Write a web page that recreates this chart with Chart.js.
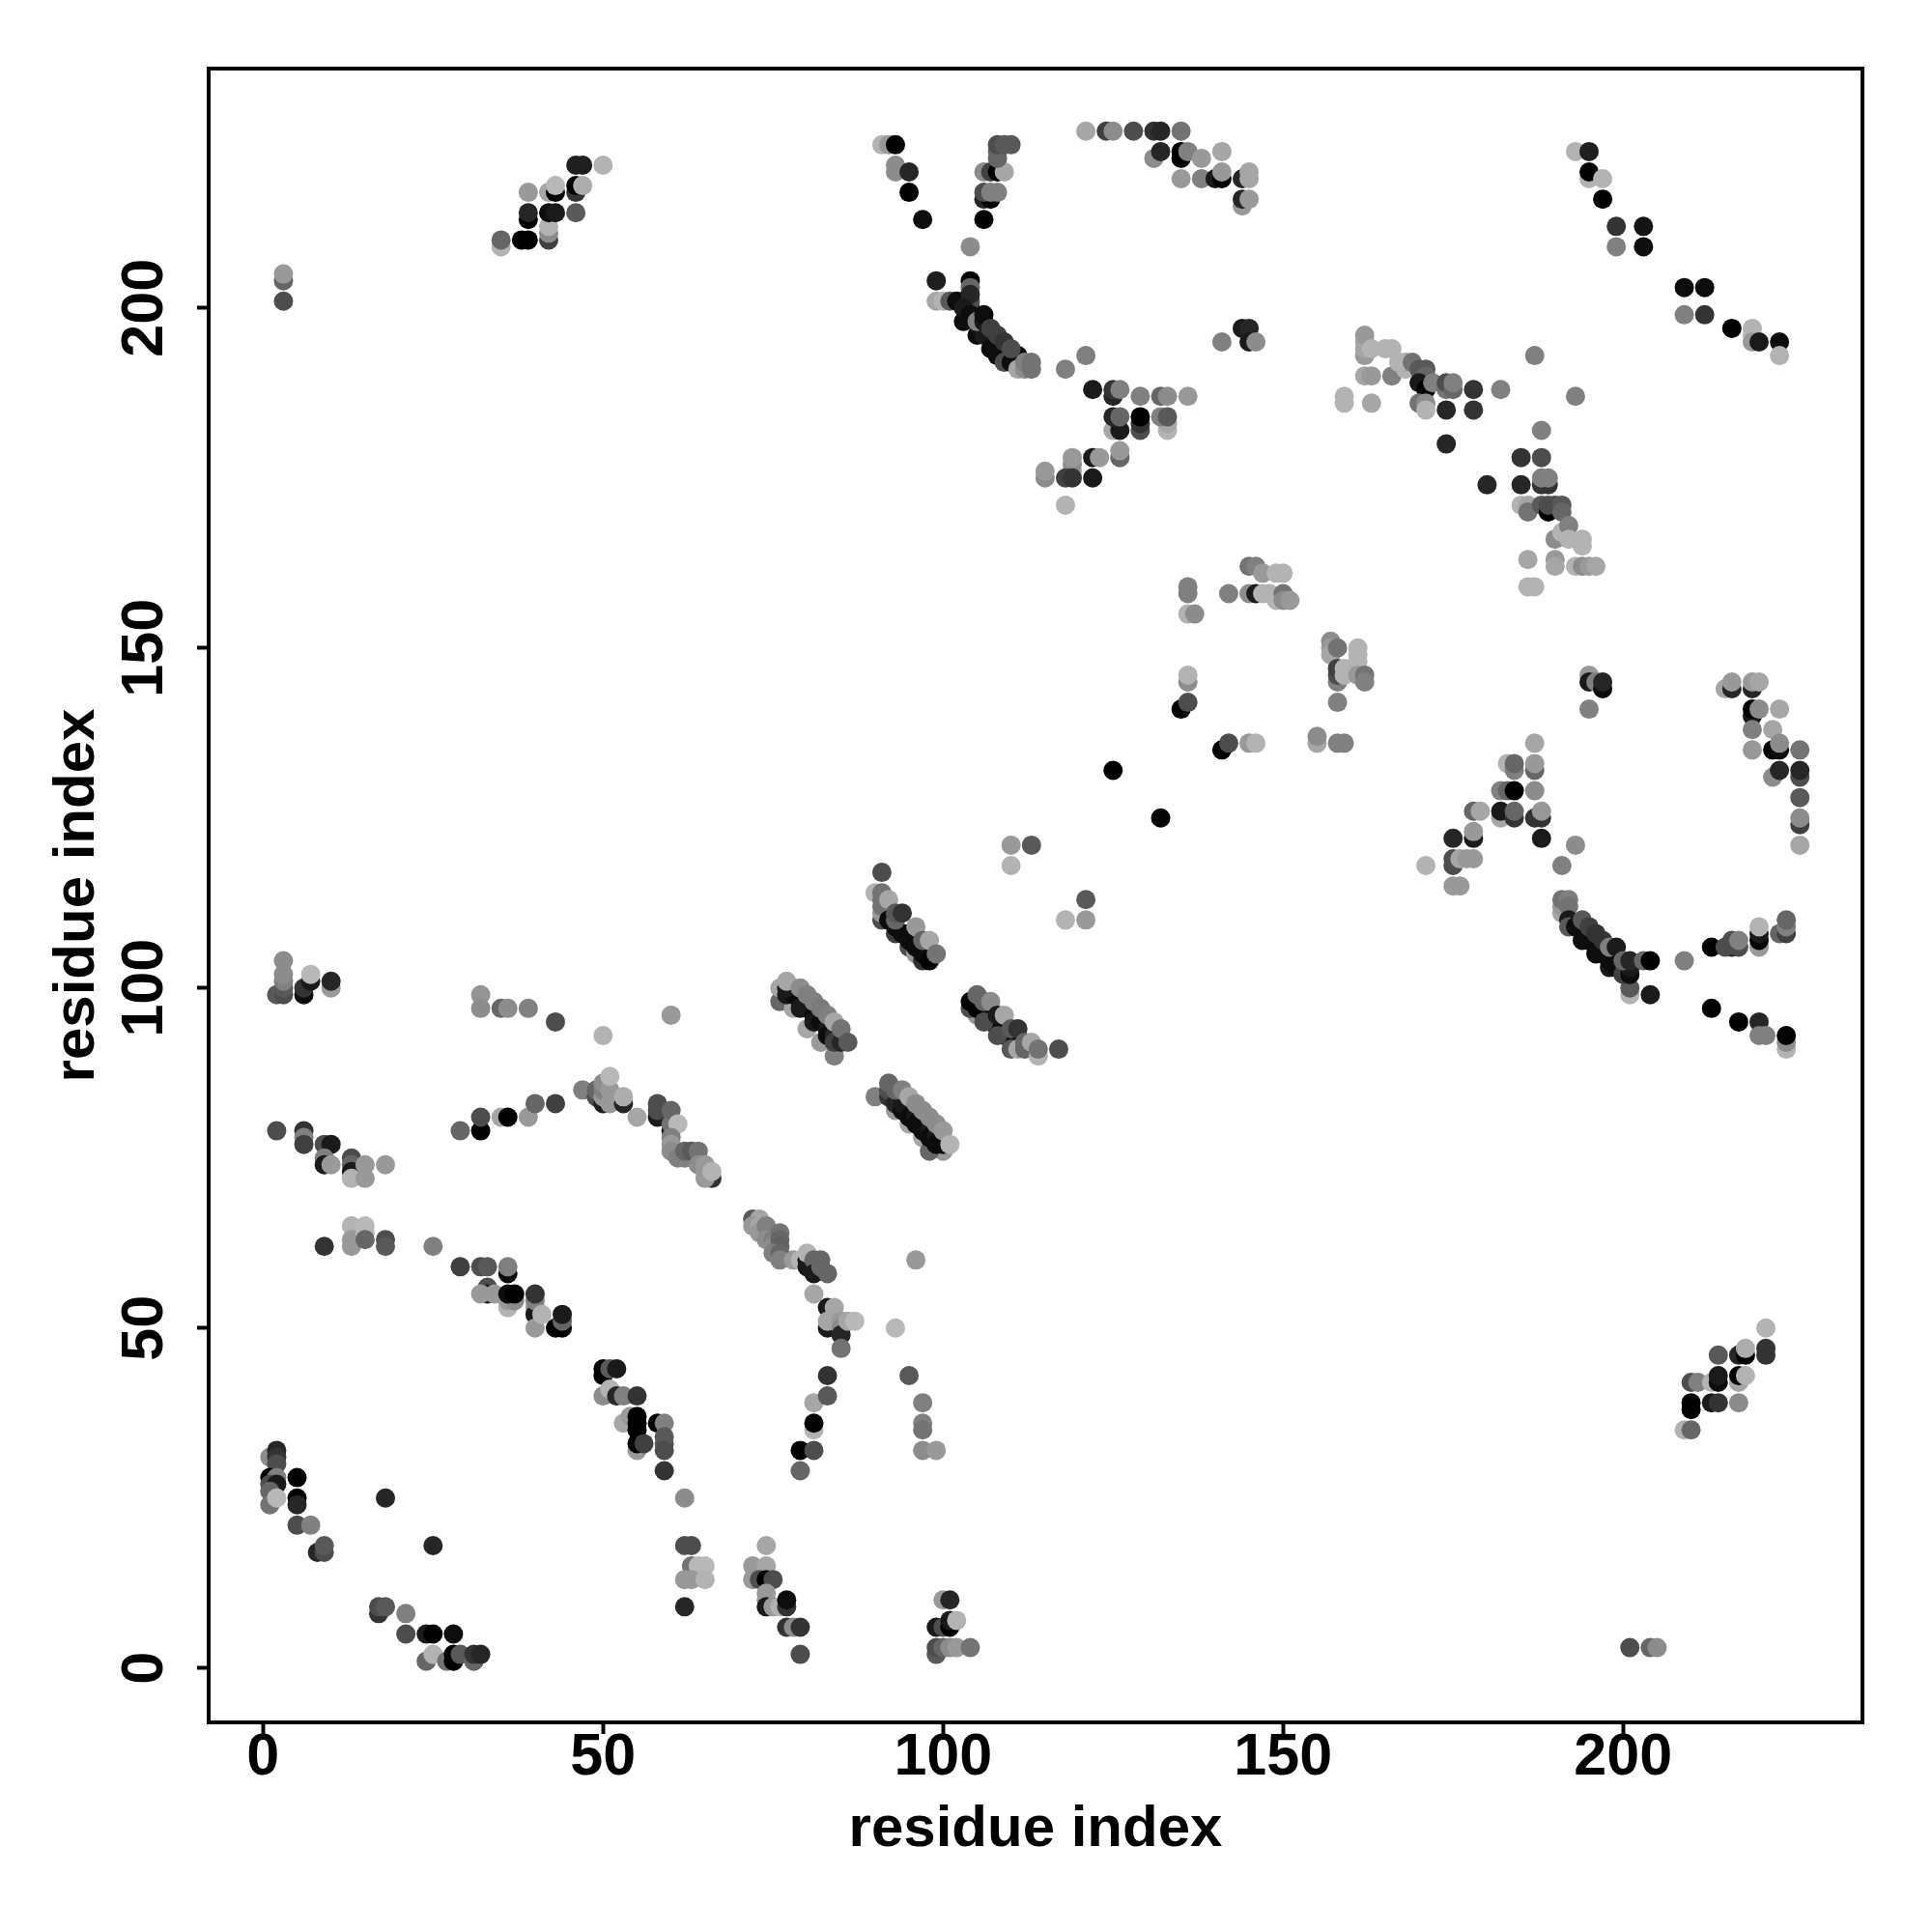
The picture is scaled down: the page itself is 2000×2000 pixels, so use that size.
<!DOCTYPE html>
<html lang="en">
<head>
    <meta charset="UTF-8">
    <title>residue contact map</title>
    <script src="https://cdn.jsdelivr.net/npm/chart.js"></script>
    <style>
        body { margin: 0; background: #fff; }
    </style>
</head>
<body>
    <canvas id="contactMap" width="2000" height="2000"></canvas>

    <script>
        const tickValues = [0, 50, 100, 150, 200];
        const axisLabel = 'residue index';

        // every contact is [x residue, y residue, grey level]
        const lowerLeft = [[1,31,.55],[2,32,.15],[2,31,.2],[2,30,.3],[1,28,0],[2,28,.5],[1,27,.3],[2,27,.1],[1,26,.4],[5,28,0],[5,25,0],[5,24,.15],[1,24,.45],[2,25,.72],[5,21,.3],[7,21,.5],[8,17,.15],[9,17,.3],[9,18,.35],[18,25,.15],[25,18,.15],[17,8,.2],[17,9,.3],[18,9,.35],[21,8,.5],[21,5,.3],[24,5,.1],[25,5,0],[28,5,.05],[24,1,.4],[25,2,.7],[27,1,.45],[28,2,0],[28,1,0],[29,2,.35],[31,1,.4],[31,2,.2],[32,2,.15]];
        const leftTop = [[2,99,.35],[3,99,.3],[3,100,.35],[3,101,.5],[3,102,.55],[3,104,.55],[6,99,.05],[6,100,.2],[7,101,.1],[7,102,.72],[10,100,.6],[10,101,.15],[32,99,.58],[32,97,.55],[35,97,.4],[36,97,.55],[39,97,.5],[43,95,.3],[50,93,.7],[60,96,.6]];
        const leftMiddle = [[2,79,.3],[6,79,.2],[6,78,.5],[6,77,.25],[9,77,.3],[10,77,.1],[9,75,.5],[9,74,.1],[10,74,.6],[13,75,.3],[13,74,.4],[13,73,.1],[13,72,.7],[15,74,.6],[15,72,.6],[18,74,.6],[9,62,.2],[13,65,.7],[13,63,.6],[13,62,.6],[15,65,.72],[15,64,.72],[15,63,.4],[18,63,.3],[18,62,.35],[25,62,.5]];
        const strandDown = [[29,59,.25],[32,59,.3],[33,59,.35],[36,58,.05],[36,59,.5],[33,56,.3],[33,55,.1],[32,55,.6],[34,55,.6],[36,53,.7],[36,54,.6],[37,54,.55],[36,55,.05],[37,55,0],[40,53,.6],[40,52,.1],[40,54,.5],[40,55,.2],[40,50,.6],[41,52,.7],[43,50,0],[44,50,0],[44,51,.4],[44,52,.1],[50,44,0],[50,43,0],[51,44,.35],[52,44,.1],[50,40,.55],[51,41,.7],[52,40,.15],[53,40,.5],[55,40,.2],[53,36,.65],[54,37,.6],[55,37,0],[55,36,0],[55,35,0],[58,36,0],[59,36,.5],[55,32,.6],[55,33,0],[56,33,.25],[59,34,.35],[59,33,.35],[59,32,.3],[59,29,.2],[62,25,.55],[62,18,.3],[63,18,.3],[63,15,.45],[64,15,.72],[65,15,.72],[62,13,.6],[63,13,.6],[65,13,.7],[62,9,.15]];
        const bottomMiddle = [[74,18,.65],[72,15,.6],[74,15,.65],[72,13,.6],[73,13,.3],[74,13,0],[75,13,.3],[74,11,.6],[74,10,.6],[74,9,.1],[75,9,.6],[76,9,.7],[77,9,.2],[77,10,.05],[77,6,.2],[78,6,.55],[79,6,.2],[79,2,.3],[100,10,.6],[101,10,.15],[99,6,.1],[100,6,.3],[101,6,0],[101,7,.1],[102,7,.7],[99,2,.35],[99,3,.3],[100,3,.4],[101,3,.55],[102,3,.6],[104,3,.45]];
        const middleArc = [[29,79,.4],[32,79,0],[32,81,.3],[35,81,.65],[36,81,0],[39,81,.6],[40,83,.4],[43,83,.25],[47,85,.5],[49,84,.3],[49,85,.4],[50,83,.1],[50,84,.6],[50,85,.5],[50,86,.55],[51,83,.6],[51,85,.6],[51,87,.72],[53,83,.15],[53,84,.68],[55,81,.65],[58,81,.1],[58,82,.3],[58,83,.3],[60,79,.1],[60,80,.45],[60,82,.4],[61,80,.72],[60,78,.5],[60,77,.6],[60,76,.55],[61,75,.5],[62,75,.5],[62,76,.4],[63,76,.35],[64,76,.45],[64,74,.55],[65,74,.6],[65,73,.6],[66,72,.2],[65,72,.6],[66,73,.7]];
        const bendDown = [[72,66,.35],[73,66,.65],[72,65,.6],[73,65,.65],[73,64,.6],[74,64,.6],[74,65,.5],[74,63,.55],[75,63,.5],[75,62,.55],[76,64,.45],[76,63,.4],[76,62,.38],[75,61,.5],[76,61,.4],[76,60,.5],[78,60,.6],[79,60,.7],[80,60,.1],[80,59,.1],[80,61,.7],[81,60,.4],[82,60,.4],[81,58,.1],[82,59,.4],[83,58,.4],[81,55,.65],[83,53,.1],[84,53,.65],[83,50,.1],[83,51,.65],[85,51,.6],[85,50,.55],[85,49,.15],[86,51,.65],[87,51,.72],[85,47,.45],[96,60,.6],[93,50,.72],[83,43,.2],[95,43,.35],[81,39,.65],[83,40,.35],[97,39,.5],[97,36,.5],[97,35,.45],[81,35,.7],[81,36,0],[79,32,0],[81,32,.3],[79,29,.4],[97,32,.55],[99,32,.6]];
        const diagonalA = [[76,98,.4],[76,100,.65],[78,97,.65],[80,94,.65],[82,92,.6],[84,90,.5],[77,99,.1],[78,99,.05],[79,98,.05],[79,97,.1],[80,97,.1],[81,96,.05],[81,95,.1],[82,95,.05],[83,94,.1],[83,93,.05],[84,93,.15],[84,92,.25],[85,92,.15],[77,100,.1],[77,101,.65],[79,100,.55],[80,99,.5],[81,98,.5],[82,97,.48],[83,96,.5],[84,95,.65],[85,94,.45],[86,92,.35]];
        const diagonalB = [[90,84,.5],[93,82,.6],[95,80,.65],[97,78,.65],[100,76,.6],[98,76,.4],[92,84,.2],[92,85,.3],[92,86,.4],[93,83,.15],[94,82,.05],[94,83,.1],[95,81,.05],[96,81,.1],[96,80,.05],[97,79,.05],[98,79,.1],[98,78,.05],[99,78,.1],[99,77,.05],[100,77,.05],[93,85,.4],[94,85,.5],[95,84,.65],[96,83,.55],[97,82,.55],[98,81,.55],[99,80,.55],[100,79,.6],[101,77,.7]];
        const diagonalC = [[90,114,.7],[91,110,.3],[91,111,.6],[91,112,.45],[91,113,.45],[91,114,.45],[91,117,.3],[92,113,.65],[93,108,.25],[95,106,.3],[96,105,.6],[97,104,.2],[92,110,.05],[93,109,.05],[94,108,.05],[95,108,.05],[95,107,.05],[96,107,.05],[96,106,.05],[97,106,.05],[97,105,.05],[98,105,.05],[98,104,0],[93,110,.4],[93,111,.35],[94,111,.2],[96,109,.6],[97,107,.4],[98,107,.65],[99,105,.45]];
        const diagonalD = [[105,96,.6],[104,97,.3],[104,98,0],[105,97,0],[106,96,0],[107,95,0],[107,96,.05],[108,95,0],[109,94,0],[109,93,.05],[110,93,.05],[111,92,.05],[106,95,.3],[108,93,.3],[110,91,.35],[111,91,.65],[112,91,.4],[114,90,.7],[105,99,.4],[106,98,.4],[107,98,.55],[108,96,.1],[109,96,.65],[110,94,.35],[111,94,.2],[112,92,.4],[113,92,.65],[114,91,.45],[117,91,.3]];
        const upperLeft = [[3,201,.3],[3,204,.4],[3,205,.6],[35,209,.7],[35,210,.4],[38,210,0],[39,210,0],[42,210,.25],[42,211,.55],[42,212,.7],[39,213,0],[39,214,.15],[42,214,.05],[43,214,.1],[46,214,.35],[39,217,.6],[42,217,.65],[43,217,0],[43,218,.72],[46,217,.2],[46,218,0],[47,218,.68],[46,221,.12],[47,221,.12],[50,221,.7]];
        const upperV = [[91,224,.7],[92,224,.6],[93,224,0],[93,221,.55],[93,220,.55],[95,220,.15],[95,217,0],[97,213,.05],[104,209,.55],[106,213,0],[106,216,.15],[107,216,0],[106,217,.3],[107,217,.5],[108,217,.5],[106,220,.55],[107,220,.25],[108,220,0],[109,220,.65],[108,222,.4],[108,223,.4],[108,224,.3],[109,224,.35],[110,224,.35]];
        const upperArc = [[99,204,.12],[104,204,0],[104,203,.4],[99,201,.65],[100,201,.7],[101,201,.35],[102,201,.05],[103,201,.05],[104,200,.2],[104,201,.3],[104,202,.15],[103,198,.05],[103,200,.1],[104,199,.05],[105,196,.05],[106,196,.1],[107,194,.05],[108,193,.05],[109,192,.3],[110,192,.05],[111,193,.05],[105,198,.5],[106,198,.1],[106,199,.05],[107,197,.25],[108,196,.25],[109,195,.2],[110,194,.3],[111,191,.65],[112,191,.55],[112,192,.5],[113,191,.45],[113,192,.45],[118,191,.5],[121,193,.5]];
        const topArc = [[121,226,.65],[124,226,.25],[125,226,.55],[128,226,.3],[131,226,.2],[132,226,.15],[135,226,.45],[131,222,.55],[132,223,.15],[135,222,0],[135,223,0],[136,223,.5],[138,222,.6],[141,223,.65],[135,219,.6],[138,219,.5],[140,219,.1],[141,219,0],[141,220,.6],[144,219,.15],[145,220,.65],[145,219,.65],[144,215,.6],[144,216,.15],[145,216,.6]];
        const midUpper = [[144,197,.1],[145,197,.15],[145,195,.1],[146,195,.55],[141,195,.5],[122,188,.1],[125,187,.15],[125,188,.2],[126,188,.5],[129,187,.5],[132,187,.4],[133,187,.55],[136,187,.6],[125,182,.65],[126,182,.1],[125,184,.15],[126,184,.4],[129,182,.3],[129,183,.2],[129,184,0],[133,182,.7],[133,183,.65],[132,184,.5],[133,184,.35],[122,178,.1],[123,178,.6],[119,176,.65],[119,177,.55],[119,178,.6],[126,178,.4],[126,179,.6],[115,175,.55],[115,176,.6],[118,175,.25],[119,175,.2],[122,175,.1],[118,171,.7]];
        const rightUpper = [[162,193,.6],[162,194,.65],[162,195,.65],[162,196,.6],[163,194,.7],[165,194,.7],[166,194,.7],[162,190,.65],[163,190,.6],[166,190,.5],[168,191,.7],[168,192,.65],[167,192,.7],[169,192,.45],[170,191,.35],[171,191,.35],[171,190,.4],[170,189,.1],[171,188,0],[172,189,.5],[174,188,.45],[174,189,.3],[175,188,.4],[175,189,.5],[178,188,.2],[178,185,.2],[174,185,.15],[182,188,.5],[170,186,.45],[171,186,.55],[171,185,.7],[174,180,.15],[159,187,.7],[159,186,.7],[163,186,.65],[187,193,.5],[193,187,.5],[188,182,.5],[185,178,.2],[188,178,.3],[180,174,.15],[185,174,.15],[188,174,.2],[189,174,.2],[188,175,.5],[189,175,.5],[185,171,.7],[186,171,.65],[186,170,.45],[188,171,.35],[189,170,0],[189,171,.3],[190,171,.3],[191,171,.35],[191,170,.4],[190,166,.55],[191,167,.7],[192,168,.5],[192,166,.7],[194,166,.7],[194,165,.7],[186,163,.65],[190,163,.6],[190,162,.65],[193,162,.7],[194,162,.55],[195,162,.6],[196,162,.65],[186,159,.7],[187,159,.7]];
        const centre = [[136,159,.5],[136,158,.5],[136,155,.7],[137,155,.55],[142,158,.5],[145,162,.45],[146,162,.5],[147,161,.6],[149,161,.7],[150,161,.7],[145,158,.55],[146,158,.1],[147,158,.7],[148,158,.7],[149,157,.7],[150,158,.45],[150,157,.55],[151,157,.6],[136,145,.55],[136,146,.7],[135,141,0],[136,142,.3],[157,151,.55],[157,150,.6],[157,149,.65],[158,150,.45],[161,150,.7],[161,149,.7],[161,148,.7],[158,145,.5],[158,146,.3],[158,147,.25],[159,147,.7],[159,146,.7],[161,147,.7],[161,146,.6],[162,146,.45],[162,145,.5],[158,142,.5],[141,135,0],[142,136,.3],[145,136,.6],[146,136,.7],[155,136,.65],[155,137,.55],[158,136,.5],[159,136,.5],[125,132,0],[132,125,.02],[110,121,.6],[113,121,.35],[110,118,.7],[121,113,.35],[118,110,.7],[121,110,.6]];
        const rightMiddle = [[171,118,.7],[175,122,.15],[178,122,.1],[178,123,.6],[175,118,.3],[175,119,.3],[176,119,.65],[177,119,.6],[178,119,.6],[175,115,.6],[176,115,.6],[178,126,.4],[179,126,.65],[182,125,.65],[182,126,.1],[184,125,.2],[184,126,.4],[182,129,.5],[183,129,.4],[184,129,0],[187,129,.55],[183,133,.7],[184,132,.5],[184,133,.4],[187,132,.4],[187,133,.6],[187,136,.65],[187,125,.2],[188,125,.2],[188,126,.6],[188,122,.1],[193,121,.55],[191,118,.5],[195,146,.6],[195,145,.1],[196,145,.5],[197,144,.05],[197,145,.15],[195,141,.5]];
        const farRight = [[215,144,.65],[216,144,.15],[216,145,.6],[219,144,.15],[219,145,.6],[220,145,.65],[219,140,.1],[219,141,0],[220,141,.55],[223,141,.65],[219,138,.5],[222,138,.65],[219,135,.6],[222,135,0],[223,135,.05],[223,136,.55],[226,135,.45],[222,131,.55],[223,132,.15],[226,131,.3],[226,132,.15],[226,128,.35],[226,124,.25],[226,125,.55],[226,121,.65]];
        const rightArc = [[191,111,.65],[191,112,.6],[191,113,.45],[192,113,.5],[192,112,.45],[192,110,.1],[192,109,.35],[193,109,.05],[194,107,.05],[195,107,.05],[196,106,.05],[196,105,.05],[197,105,.05],[198,103,.1],[198,104,.05],[199,103,.05],[199,104,.05],[200,103,.05],[194,110,.35],[195,109,.25],[196,108,.2],[197,107,.2],[198,106,.5],[199,106,.1],[201,99,.7],[201,100,.35],[200,102,.25],[201,102,.05],[201,103,.1],[200,104,.4],[201,104,.15],[203,104,.4],[204,104,0],[209,104,.5],[204,99,.1],[213,106,0],[216,106,.15],[215,106,.3],[217,106,.3],[216,107,.3],[217,107,.5],[220,106,.6],[220,107,0],[220,108,.1],[220,109,.7],[223,108,.4],[224,108,.25],[224,109,.5],[224,110,.4],[213,97,0],[217,95,0],[220,95,.15],[220,93,.5],[221,93,.5],[224,91,.7],[224,92,.55],[224,93,0]];
        const topRight = [[193,223,.7],[195,223,.12],[195,219,.7],[195,220,0],[197,219,.7],[197,216,0],[199,212,.2],[203,212,.08],[199,209,.5],[203,209,.05],[209,203,.05],[212,203,.05],[209,199,.5],[212,199,.2],[216,197,0],[219,197,.7],[219,196,.7],[219,195,.6],[220,195,.1],[223,195,.05],[223,193,.7]];
        const bottomRight = [[201,3,.3],[204,3,.4],[205,3,.55],[209,35,.7],[210,35,.4],[210,38,0],[210,39,0],[210,42,.3],[211,42,.5],[213,42,.7],[213,39,.1],[214,39,.2],[214,42,.05],[214,43,.1],[214,46,.35],[217,39,.55],[217,42,.65],[217,43,0],[218,43,.7],[217,46,.15],[218,46,0],[218,47,.68],[221,50,.7],[221,46,.2],[221,47,.2]];

        const contacts = [lowerLeft, leftTop, leftMiddle, strandDown, bottomMiddle, middleArc, bendDown,
            diagonalA, diagonalB, diagonalC, diagonalD, upperLeft, upperV, upperArc, topArc, midUpper,
            rightUpper, centre, rightMiddle, farRight, rightArc, topRight, bottomRight].flat();

        function greyColor(level) {
            const v = Math.round(level * 255);
            return 'rgb(' + v + ',' + v + ',' + v + ')';
        }

        function axisOptions(fitSize, titlePadding, tickPadding, rotation) {
            return {
                type: 'linear',
                min: -8,
                max: 235.2,
                afterBuildTicks: scale => { scale.ticks = tickValues.map(v => ({ value: v })); },
                afterFit: scale => {
                    if (scale.isHorizontal()) scale.height = fitSize; else scale.width = fitSize;
                },
                grid: { drawOnChartArea: false, tickLength: 12, tickWidth: 4, tickColor: '#000' },
                border: { color: '#000', width: 4 },
                ticks: {
                    color: '#000',
                    padding: tickPadding,
                    minRotation: rotation,
                    maxRotation: rotation,
                    crossAlign: 'center',
                    autoSkip: false,
                    font: { family: '"Liberation Sans"', weight: 'bold', size: 61 }
                },
                title: {
                    display: true,
                    text: axisLabel,
                    color: '#000',
                    padding: titlePadding,
                    font: { family: '"Liberation Sans"', weight: 'bold', size: 60 }
                }
            };
        }

        // box on all four sides, the axes only draw two of them
        const frame = {
            id: 'frame',
            afterDatasetsDraw(chart) {
                const { ctx, chartArea } = chart;
                ctx.save();
                ctx.strokeStyle = '#000';
                ctx.lineWidth = 4;
                ctx.strokeRect(chartArea.left, chartArea.top, chartArea.width, chartArea.height);
                ctx.restore();
            }
        };

        new Chart(document.getElementById('contactMap').getContext('2d'), {
            type: 'scatter',
            data: {
                datasets: [{
                    data: contacts.map(c => ({ x: c[0], y: c[1] })),
                    backgroundColor: contacts.map(c => greyColor(c[2])),
                    pointRadius: 10,
                    borderWidth: 0
                }]
            },
            options: {
                responsive: false,
                animation: false,
                layout: { padding: { top: 71, right: 72, left: 0, bottom: 0 } },
                plugins: { legend: { display: false }, tooltip: { enabled: false } },
                scales: {
                    x: axisOptions(217, 70, 25, 0),
                    y: axisOptions(216, 44, 2, 90)
                }
            },
            plugins: [frame]
        });
    </script>
</body>
</html>
